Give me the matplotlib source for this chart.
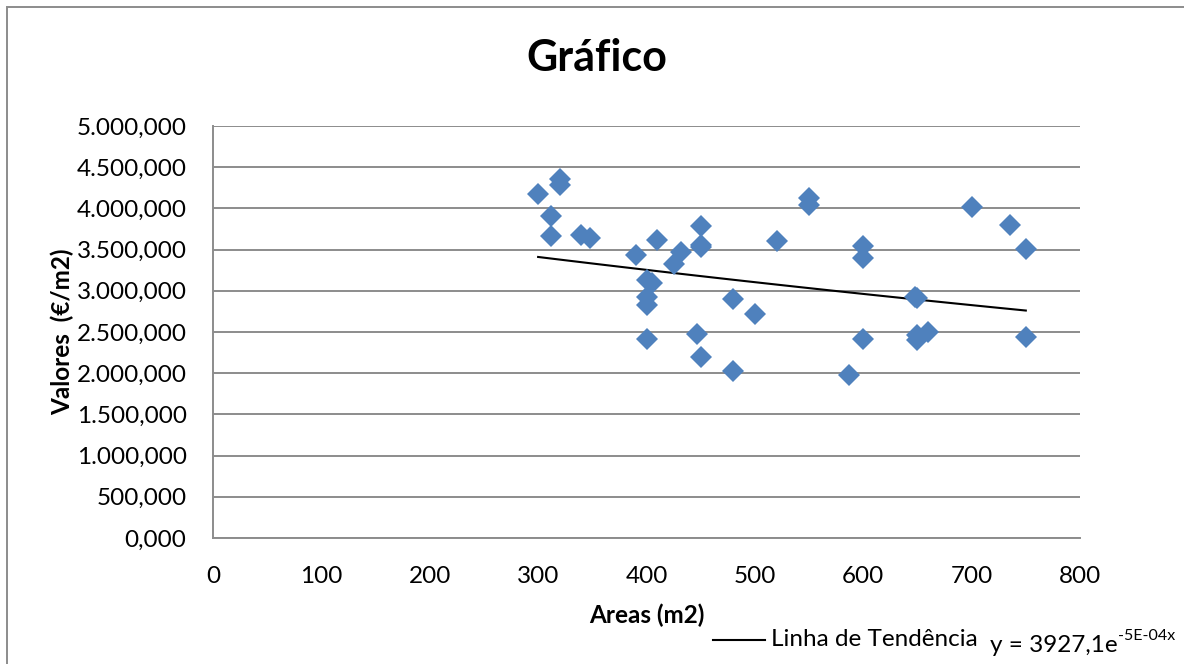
import numpy as np
import matplotlib
matplotlib.use("Agg")
import matplotlib.pyplot as plt
from matplotlib.ticker import FuncFormatter, MultipleLocator
from matplotlib.patches import Rectangle
from matplotlib.lines import Line2D

plt.rcParams["font.family"] = ["Lato", "DejaVu Sans"]

# Áreas (m2) e valores (€/m2)
areas = [300, 320, 320, 312, 312, 340, 348, 390, 410, 432, 425, 400, 405,
         400, 400, 400, 450, 450, 450, 447, 450, 480, 500, 480, 520, 550,
         550, 600, 600, 648, 650, 600, 587, 650, 650, 660, 700, 735, 750, 750]
valores = [4170, 4360, 4290, 3910, 3660, 3675, 3635, 3440, 3615, 3470, 3330,
           3130, 3100, 2920, 2830, 2420, 3785, 3535, 3560, 2475, 2195, 2900,
           2715, 2025, 3600, 4130, 4045, 3545, 3395, 2930, 2910, 2415, 1975,
           2465, 2405, 2505, 4015, 3800, 3510, 2445]

# linha de tendência exponencial y = a * e^(b x)
trend_a = 3927.1
trend_b = -4.7e-4
trend_x = [min(areas), max(areas)]

blue = "#4F81BD"
grid_gray = "#8C8C8C"
fs = 17.5

fig = plt.figure(figsize=(11.84, 6.64), dpi=100)
ax = fig.add_axes([213 / 1184, 1 - 538 / 664, (1080 - 213) / 1184, (538 - 126) / 664])

xt = np.linspace(trend_x[0], trend_x[1], 100)
ax.plot(xt, trend_a * np.exp(trend_b * xt), color="black", lw=1.5, zorder=3)
ax.plot(areas, valores, linestyle="none", marker="D", ms=11.5,
        color=blue, markeredgewidth=0, zorder=4)

ax.set_xlim(0, 800)
ax.set_ylim(0, 5000)
ax.xaxis.set_major_locator(MultipleLocator(100))
ax.yaxis.set_major_locator(MultipleLocator(500))


def pt_format(v, pos):
    s = f"{v:,.3f}"
    return s.replace(",", "X").replace(".", ",").replace("X", ".")


ax.yaxis.set_major_formatter(FuncFormatter(pt_format))
ax.grid(axis="y", color=grid_gray, lw=1.4)
ax.set_axisbelow(True)
for side in ("top", "right"):
    ax.spines[side].set_visible(False)
for side in ("left", "bottom"):
    ax.spines[side].set_color(grid_gray)
    ax.spines[side].set_linewidth(1.4)
ax.tick_params(length=0, labelsize=fs, colors="black")
ax.tick_params(axis="y", pad=19)
ax.tick_params(axis="x", pad=20)

ax.set_xlabel("Areas (m2)", fontsize=fs, fontweight="bold", labelpad=12)
ax.set_ylabel("Valores  (€/m2)", fontsize=fs, fontweight="bold", labelpad=2)
fig.text(597 / 1184, 1 - 58 / 664, "Gráfico", ha="center", va="center",
         fontsize=31, fontweight="bold")

# legenda da tendência
fig.add_artist(Line2D([713 / 1184, 765 / 1184], [1 - 640 / 664] * 2,
                      color="black", lw=1.5))
fig.text(771 / 1184, 1 - 640 / 664, "Linha de Tendência", ha="left",
         va="center", fontsize=fs)
eq = fig.text(990 / 1184, 1 - 646 / 664, "y = 3927,1e", ha="left",
              va="center", fontsize=fs)
ax.annotate("-5E-04x", xy=(1, 0.62), xycoords=eq, ha="left", va="bottom",
            fontsize=11.5, annotation_clip=False)

# moldura do gráfico
fig.add_artist(Rectangle((7 / 1184, -0.1), 1.2, 1 - 7 / 664 + 0.1,
                         transform=fig.transFigure, fill=False,
                         edgecolor="#8C8C8C", lw=1.4))

fig.savefig("out.png", dpi=100)
